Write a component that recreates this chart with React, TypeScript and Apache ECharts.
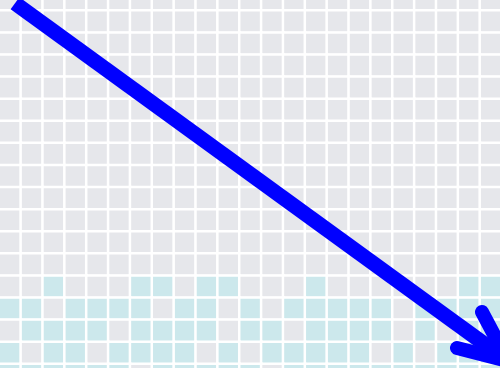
import React, { useEffect, useRef } from "react";
import * as echarts from "echarts";

// 23 columns x 18 rows; 0 = empty (gray), 1 = filled (cyan)
const columns = ["c0","c1","c2","c3","c4","c5","c6","c7","c8","c9","c10","c11","c12","c13","c14","c15","c16","c17","c18","c19","c20","c21","c22"];
const rows = ["r0","r1","r2","r3","r4","r5","r6","r7","r8","r9","r10","r11","r12","r13","r14","r15","r16","r17"];

const row0 = [0,0,0,0,0,0,0,0,0,0,0,0,0,0,0,0,0,0,0,0,0,0,0];
const row1 = [0,0,0,0,0,0,0,0,0,0,0,0,0,0,0,0,0,0,0,0,0,0,0];
const row2 = [0,0,0,0,0,0,0,0,0,0,0,0,0,0,0,0,0,0,0,0,0,0,0];
const row3 = [0,0,0,0,0,0,0,0,0,0,0,0,0,0,0,0,0,0,0,0,0,0,0];
const row4 = [0,0,0,0,0,0,0,0,0,0,0,0,0,0,0,0,0,0,0,0,0,0,0];
const row5 = [0,0,0,0,0,0,0,0,0,0,0,0,0,0,0,0,0,0,0,0,0,0,0];
const row6 = [0,0,0,0,0,0,0,0,0,0,0,0,0,0,0,0,0,0,0,0,0,0,0];
const row7 = [0,0,0,0,0,0,0,0,0,0,0,0,0,0,0,0,0,0,0,0,0,0,0];
const row8 = [0,0,0,0,0,0,0,0,0,0,0,0,0,0,0,0,0,0,0,0,0,0,0];
const row9 = [0,0,0,0,0,0,0,0,0,0,0,0,0,0,0,0,0,0,0,0,0,0,0];
const row10 = [0,0,0,0,0,0,0,0,0,0,0,0,0,0,0,0,0,0,0,0,0,0,0];
const row11 = [0,0,0,0,0,0,0,0,0,0,0,0,0,0,0,0,0,0,0,0,0,0,0];
const row12 = [0,0,0,0,0,0,0,0,0,0,0,0,0,0,0,0,0,0,0,0,0,0,0];
const row13 = [0,0,1,0,0,0,1,1,0,1,1,0,0,0,1,0,0,0,0,0,0,1,1];
const row14 = [1,1,0,1,1,1,1,0,1,1,0,1,0,1,1,1,1,1,0,1,1,1,1];
const row15 = [0,1,1,1,1,0,1,1,1,1,0,1,1,0,1,1,1,1,0,1,0,1,1];
const row16 = [1,0,1,1,0,1,1,1,1,0,1,0,1,1,1,1,1,0,1,0,1,1,1];
const row17 = [1,1,1,1,1,1,0,1,1,1,1,1,0,1,1,1,1,1,1,1,1,1,1];

const cellRows = [row0,row1,row2,row3,row4,row5,row6,row7,row8,row9,row10,row11,row12,row13,row14,row15,row16,row17];

export default function App() {
  const ref = useRef<HTMLDivElement>(null);
  useEffect(() => {
    if (!ref.current) return;
    const chart = echarts.init(ref.current, null, { renderer: "svg" });
    const data: number[][] = [];
    cellRows.forEach((r, yi) => r.forEach((v, xi) => data.push([xi, yi, v])));
    chart.setOption({
      animation: false,
      backgroundColor: "#ffffff",
      grid: {
        left: -1,
        top: -11.5,
        width: 502.8,
        height: 397.6,
        outerBoundsMode: "none",
        containLabel: false,
      },
      xAxis: { type: "category", data: columns, show: false },
      yAxis: { type: "category", data: rows, inverse: true, show: false },
      visualMap: {
        show: false,
        type: "piecewise",
        dimension: 2,
        pieces: [
          { value: 0, color: "#e6e7eb" },
          { value: 1, color: "#cce8ec" },
        ],
      },
      series: [
        {
          type: "heatmap",
          data,
          itemStyle: { borderColor: "#ffffff", borderWidth: 2.5 },
          emphasis: { disabled: true },
        },
      ],
      graphic: [
        {
          type: "line",
          z: 100,
          shape: { x1: 15, y1: 3.3, x2: 508, y2: 361 },
          style: { stroke: "#0000ff", lineWidth: 15, lineCap: "butt" },
        },
        {
          type: "polyline",
          z: 100,
          shape: { points: [[457, 348], [508, 361], [482, 312]] },
          style: { stroke: "#0000ff", fill: null, lineWidth: 14, lineCap: "round", lineJoin: "round" },
        },
      ],
    });
    return () => chart.dispose();
  }, []);
  return (
    <div
      ref={ref}
      style={{ position: "fixed", left: 0, top: 0, width: 500, height: 368 }}
    />
  );
}
